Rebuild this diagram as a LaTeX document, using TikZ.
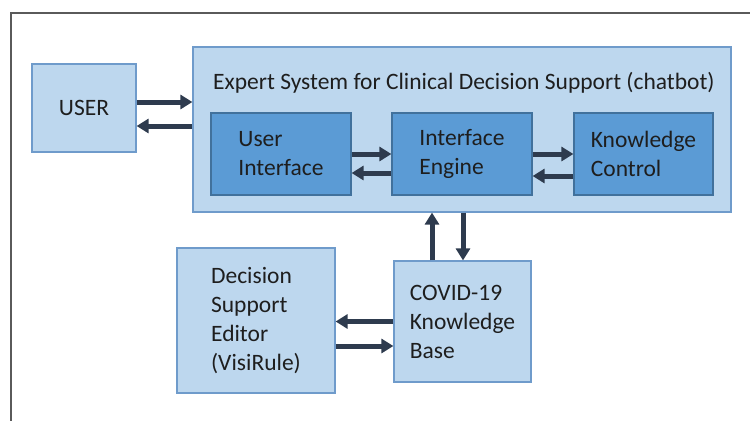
\documentclass[tikz,border=0pt]{standalone}
\usepackage{fontspec}
\setmainfont{Carlito}
\usetikzlibrary{arrows.meta,calc}

\definecolor{paleblue}{HTML}{BDD7EE}
\definecolor{paleedge}{HTML}{6F9BCB}
\definecolor{midblue}{HTML}{5B9BD5}
\definecolor{midedge}{HTML}{41719C}
\definecolor{arrowink}{HTML}{2E3B4E}
\definecolor{frameink}{HTML}{5A5A5A}
\definecolor{textink}{HTML}{1E1E1E}

\tikzset{
  lightbox/.style={draw=paleedge, fill=paleblue, line width=1.2pt, inner sep=0pt,
    text=textink, align=left, font=\fontsize{23.5}{29}\selectfont},
  darkbox/.style={draw=midedge, fill=midblue, line width=1.2pt, inner sep=0pt,
    text=textink, align=left, font=\fontsize{23.5}{29}\selectfont},
  flow/.style={draw=arrowink, line width=5pt,
    -{Triangle[length=12pt,width=14pt]}},
}

\begin{document}
\begin{tikzpicture}[x=1pt,y=-1pt]
\useasboundingbox (0,0) rectangle (750,421);

% partial frame: top and left edges only
\draw[frameink, line width=2pt] (750,13) -- (11,13) -- (11,421);

% outer system box and its heading
\node[lightbox, minimum width=538pt, minimum height=165pt] (sys) at (462,129.5) {};
\node[anchor=base west, inner sep=0pt, text=textink, font=\fontsize{23.5}{29}\selectfont]
  (systitle) at (213,89) {Expert System for Clinical Decision Support (chatbot)};

% components
\node[lightbox, minimum width=104pt, minimum height=88pt] (user) at (84,108) {USER};
\node[darkbox, minimum width=140pt, minimum height=82pt] (ui) at (281,154) {User\\Interface};
\node[darkbox, minimum width=140pt, minimum height=82pt] (ie) at (462,154) {Interface\\Engine};
\node[darkbox, minimum width=139pt, minimum height=82pt] (kc) at (643.5,154) {Knowledge\\Control};
\node[lightbox, minimum width=158pt, minimum height=145pt] (dse) at (256,320.5)
  {Decision\\Support\\Editor\\(VisiRule)};
\node[lightbox, minimum width=137pt, minimum height=121pt] (kb) at (462.5,321.5)
  {COVID-19\\Knowledge\\Base};

% connectors
\draw[flow] ([yshift=6pt]user.east) -- ([yshift=6pt]user.east -| sys.west);
\draw[flow] ([yshift=-18pt]user.east -| sys.west) -- ([yshift=-18pt]user.east);

\draw[flow] (ui.east) -- (ie.west);
\draw[flow] ([yshift=-19pt]ie.west) -- ([yshift=-19pt]ui.east);

\draw[flow] (ie.east) -- (kc.west);
\draw[flow] ([yshift=-22pt]kc.west) -- ([yshift=-22pt]ie.east);

\draw[flow] ([xshift=-30.5pt]kb.north) -- ([xshift=-30.5pt]kb.north |- sys.south);
\draw[flow] ([xshift=0.5pt]kb.north |- sys.south) -- ([xshift=0.5pt]kb.north);

\draw[flow] (kb.west) -- (kb.west -| dse.east);
\draw[flow] ([yshift=-25.5pt]dse.east) -- ([yshift=-25.5pt]dse.east -| kb.west);
\end{tikzpicture}
\end{document}
